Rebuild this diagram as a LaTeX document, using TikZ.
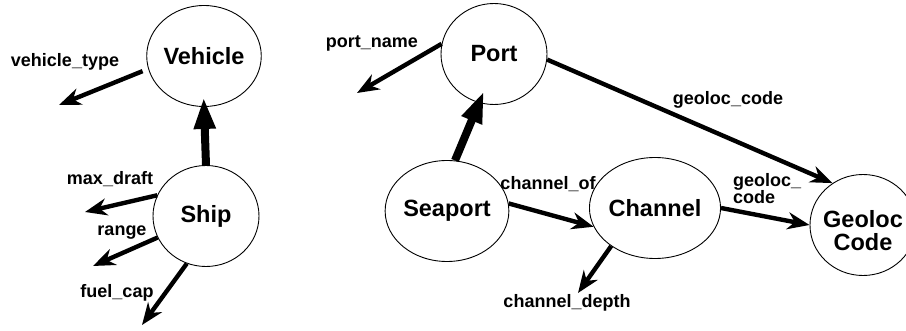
\documentclass[tikz,border=0pt]{standalone}
\usepackage{fontspec}
\setmainfont{Liberation Sans}
\usetikzlibrary{arrows.meta,shapes.geometric}
\begin{document}
\begin{tikzpicture}[x=1pt,y=-1pt,
  ent/.style={ellipse,draw,line width=0.9pt,inner sep=0pt,minimum width=106pt,minimum height=101pt,
    font=\fontsize{23.5}{24}\selectfont\bfseries,align=center},
  lbl/.style={font=\fontsize{18}{18}\selectfont\bfseries,inner sep=0pt},
  rel/.style={line width=4.4pt,-{Stealth[length=22pt,width=17pt,inset=7pt]}},
  isa/.style={line width=8pt,-{Triangle[length=32pt,width=20pt]},shorten >=-10pt}]
\useasboundingbox (0,0) rectangle (906,331);
\node[ent] (vehicle) at (204,56) {Vehicle};
\node[ent] (ship) at (206,216) {Ship};
\node[ent] (port) at (494,54) {Port};
\node[ent] (seaport) at (447,211) {Seaport};
\node[ent] (channel) at (655,208) {Channel};
\node[ent] (geoloc) at (863,225) {};
\node[font=\fontsize{23.5}{24}\selectfont\bfseries,align=center,inner sep=0pt] (geoloctext) at (863,231) {Geoloc\\[-1pt]Code};
\coordinate (vt) at (59,105);
\coordinate (md) at (85,212);
\coordinate (rg) at (93,266);
\coordinate (fc) at (142,325);
\coordinate (pn) at (357,93);
\coordinate (cd) at (578,293);
\draw[rel,shorten <=6pt] (vehicle.193) -- (vt);
\draw[rel] (ship.157) -- (md);
\draw[rel] (ship.204) -- (rg);
\draw[rel] (ship.248) -- (fc);
\draw[rel] (port.169) -- (pn);
\draw[rel] (channel.221) -- (cd);
\draw[rel] (port.354) -- (geoloc.126);
\draw[rel] (seaport.7) -- (channel.197);
\draw[rel] (channel.east) -- (geoloc.west);
\draw[isa] (ship.north) -- (vehicle.south);
\draw[isa,shorten >=-13pt] (seaport.81) -- (port.253);
\node[lbl] (l1) at (65,62) {vehicle\_type};
\node[lbl] (l2) at (110,179) {max\_draft};
\node[lbl] (l3) at (122,233) {range};
\node[lbl] (l4) at (117,293) {fuel\_cap};
\node[lbl] (l5) at (372,43) {port\_name};
\node[lbl] (l6) at (728,100) {geoloc\_code};
\node[lbl] (l7) at (548,184) {channel\_of};
\node[lbl,align=left,anchor=west] (l8) at (733,189) {geoloc\_\\[-1pt]code};
\node[lbl] (l9) at (567,303) {channel\_depth};
\end{tikzpicture}
\end{document}
